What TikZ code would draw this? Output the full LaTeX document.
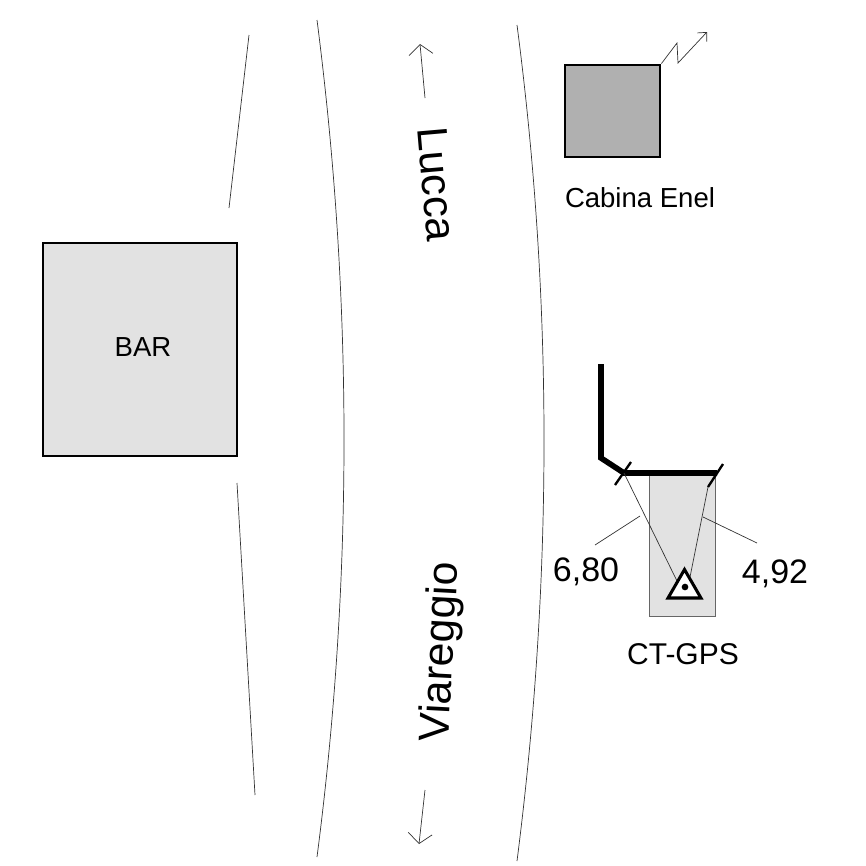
\documentclass[tikz,border=0pt]{standalone}
\usepackage{fontspec}
\setmainfont{Liberation Sans}
\usetikzlibrary{arrows.meta,shapes.geometric}
\definecolor{lightbox}{HTML}{E2E2E2}
\definecolor{darkbox}{HTML}{B0B0B0}
\tikzstyle{building}=[draw=black,line width=2.4pt,inner sep=0pt]
\tikzstyle{road} = [draw,line width=0.6pt,black!80]
\tikzstyle{thinline} = [draw,line width=0.6pt,black!80]
\tikzstyle{barb} = [-{Straight Barb[length=0.3cm,width=0.72cm,line width=0.6pt]}]
\tikzstyle{smallbarb} = [-{Straight Barb[length=0.2cm,width=0.38cm,line width=0.6pt]}]
\tikzstyle{wall} = [draw,line width=4.8pt,miter limit=10]
\tikzstyle{tick} = [draw,line width=2pt]
\tikzstyle{smalllabel}=[font=\fontsize{23.5}{26}\selectfont,inner sep=0pt]
\tikzstyle{gpsfont}=[font=\fontsize{25.6}{28}\selectfont,inner sep=0pt]
\tikzstyle{numlabel}=[font=\fontsize{29}{32}\selectfont,inner sep=0pt]
\tikzstyle{townlabel}=[font=\fontsize{36.5}{40}\selectfont,inner sep=0pt]

\begin{document}
\begin{tikzpicture}[x=0.03cm,y=-0.03cm]
    \useasboundingbox (0,0) rectangle (866,866);
    % The two roads and the two broken edges
    \path[road] (317,20) .. controls (353,300) and (353,580) .. (317,857);
    \path[road] (517,25) .. controls (553,300) and (553,580) .. (517,861);
    \path[road] (249,35) -- (229,208);
    \path[road] (237,483) -- (255,795);
    % Buildings
    \node[building,fill=lightbox,minimum width=5.82cm,minimum height=6.39cm] (bar) at (140,349.5) {};
    \node[smalllabel] (barlabel) at (143,347) {BAR};
    \node[building,fill=darkbox,minimum width=2.85cm,minimum height=2.76cm] (cabina) at (612.5,111) {};
    \node[smalllabel] (cabinalabel) at (640,198) {Cabina Enel};
    % Station area
    \node[draw=black!60,line width=0.8pt,fill=lightbox,minimum width=1.98cm,minimum height=4.26cm,inner sep=0pt] (area) at (682,545) {};
    % Named points
    \foreach \pos/\name in {{(601,364)/wallA}, {(601,458)/wallB}, {(624,473)/wallC}, {(717,473)/wallD},
                            {(615,485)/tickAa}, {(631,462)/tickAb}, {(708,487)/tickBa}, {(723,464)/tickBb},
                            {(677,581)/gpsL}, {(690,577)/gpsR},
                            {(595,545)/leadA}, {(640,516)/leadAe}, {(757,543)/leadB}, {(703,517)/leadBe},
                            {(425,98)/upA}, {(420,44)/upB}, {(425,790)/downA}, {(419,844)/downB},
                            {(677,43)/zigA}, {(678,63)/zigB}, {(707,32)/zigC}}
        \node[coordinate] (\name) at \pos {};
    % Wall and ticks
    \path[wall] (wallA) -- (wallB) -- (wallC) -- (wallD);
    \foreach \source/ \dest in {tickAa/tickAb, tickBa/tickBb}
        \path[tick] (\source) -- (\dest);
    % Distances and leaders
    \foreach \source/ \dest in {wallC/gpsL, tickBa/gpsR, leadA/leadAe, leadB/leadBe}
        \path[thinline] (\source) -- (\dest);
    % Station mark
    \node[draw,line width=2.6pt,fill=white,regular polygon,regular polygon sides=3,minimum size=1.14cm,inner sep=0pt] (gps) at (684.5,588.5) {};
    \node[circle,fill=black,minimum size=0.2cm,inner sep=0pt] (gpsdot) at (685,587) {};
    % Arrows
    \draw[thinline,barb] (upA) -- (upB);
    \draw[thinline,barb] (downA) -- (downB);
    \draw[thinline,smallbarb] (cabina.north east) -- (zigA) -- (zigB) -- (zigC);
    % Labels
    \node[gpsfont] (gpslabel) at (683,654) {CT-GPS};
    \node[numlabel] (distA) at (586,572) {6,80};
    \node[numlabel] (distB) at (775,574) {4,92};
    \node[townlabel,rotate=-85] (lucca) at (437,184) {Lucca};
    \node[townlabel,rotate=87] (viareggio) at (442,652) {Viareggio};
\end{tikzpicture}
\end{document}
